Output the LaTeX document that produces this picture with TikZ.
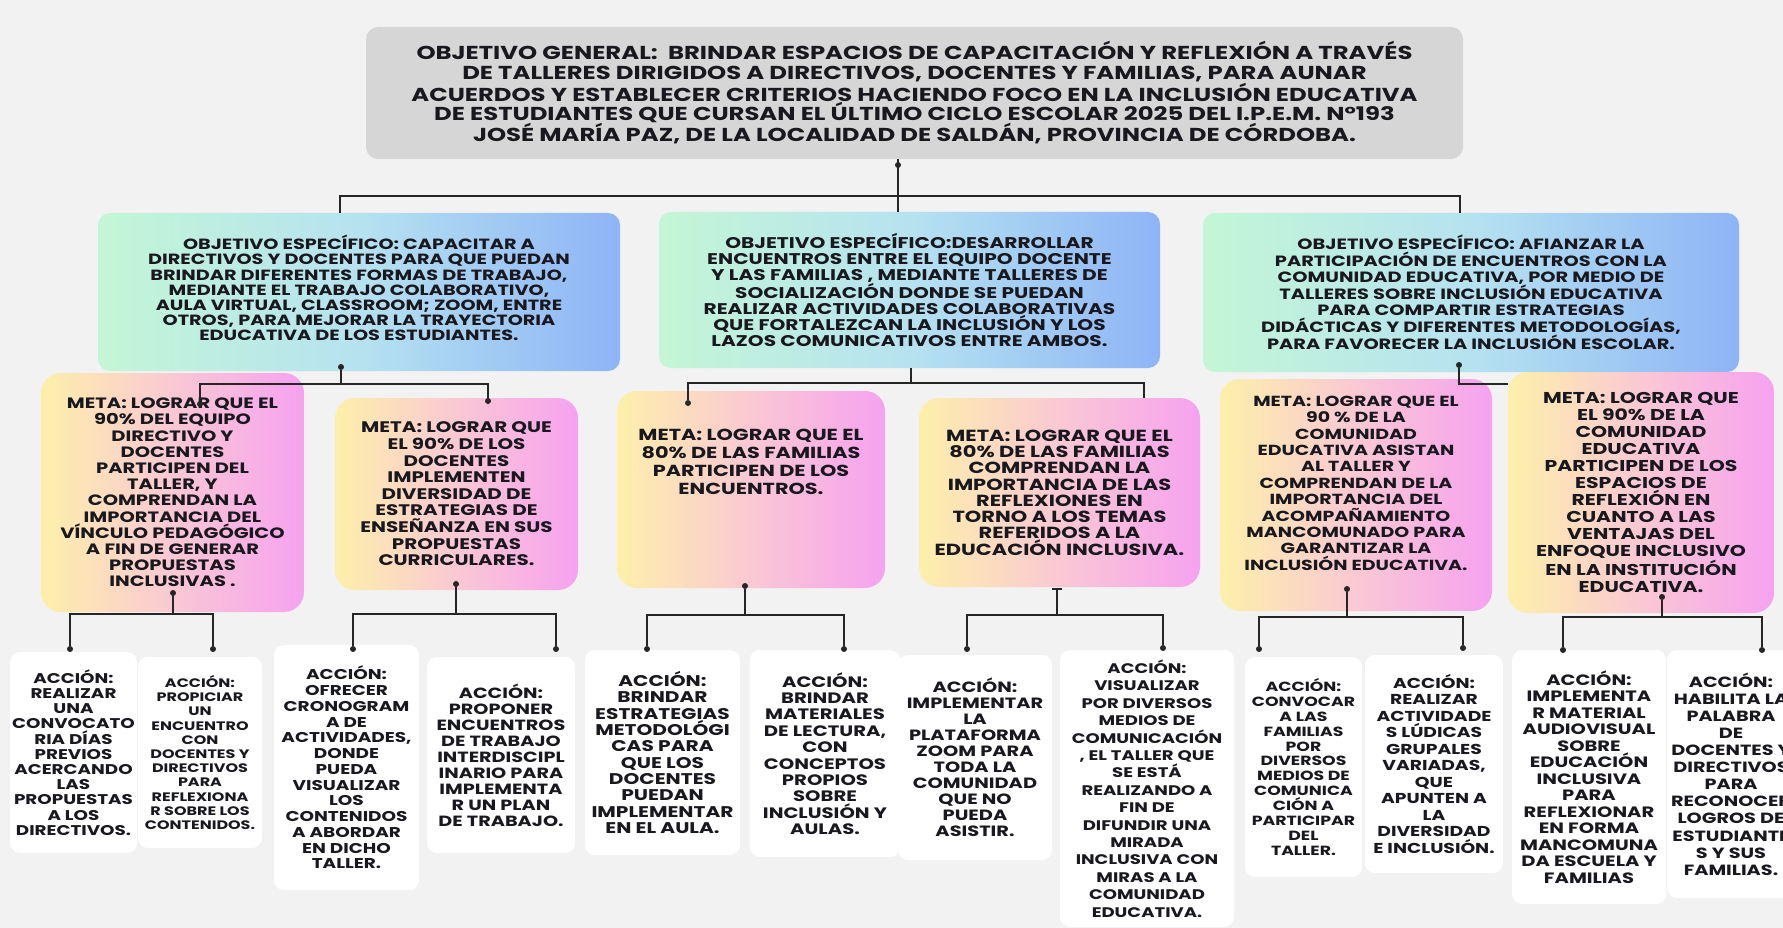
\documentclass[tikz,border=0pt]{standalone}
\usepackage{fontspec}
\setmainfont{Poppins}[FakeStretch=1.3]
\usetikzlibrary{calc}

\definecolor{fondo}{RGB}{242,242,242}
\definecolor{gris}{RGB}{214,214,214}
\definecolor{tinta}{RGB}{24,24,30}
\definecolor{linea}{RGB}{38,38,38}
\definecolor{objA}{RGB}{196,246,214}
\definecolor{objB}{RGB}{182,226,240}
\definecolor{objC}{RGB}{142,180,246}
\definecolor{metaA}{RGB}{253,240,170}
\definecolor{metaB}{RGB}{250,200,212}
\definecolor{metaC}{RGB}{246,162,240}

\newcommand{\tam}[2]{\bfseries\fontsize{#1}{#2}\selectfont}

\tikzset{
	caja/.style 2 args={align=center, inner sep=0pt, text=tinta,
		minimum width=#1, minimum height=#2},
	general/.style={fill=gris, rounded corners=12pt},
	objetivo/.style={left color=objA, right color=objC, middle color=objB, rounded corners=12pt},
	meta/.style={left color=metaA, right color=metaC, middle color=metaB, rounded corners=20pt},
	accion/.style={fill=white, rounded corners=10pt},
	rama/.style={draw=linea, line width=1.8pt},
	punto/.style={circle, fill=linea, inner sep=0pt, minimum size=6pt},
}

\begin{document}
\begin{tikzpicture}[x=1pt,y=-1pt]
	
	\useasboundingbox (0,0) rectangle (1783,928);
	\clip (0,0) rectangle (1783,928);
	\fill[fondo] (0,0) rectangle (1783,928);
	
	% objetivo general
	\node[caja={1097pt}{132pt}, general, font=\tam{18.7}{19.4}] (gen) at (914.5,93) {OBJETIVO GENERAL:~ BRINDAR ESPACIOS DE CAPACITACIÓN Y REFLEXIÓN A TRAVÉS\\DE TALLERES DIRIGIDOS A DIRECTIVOS, DOCENTES Y FAMILIAS, PARA AUNAR\\ACUERDOS Y ESTABLECER CRITERIOS HACIENDO FOCO EN LA INCLUSIÓN EDUCATIVA\\DE ESTUDIANTES QUE CURSAN EL ÚLTIMO CICLO ESCOLAR 2025 DEL I.P.E.M. N°193\\JOSÉ MARÍA PAZ, DE LA LOCALIDAD DE SALDÁN, PROVINCIA DE CÓRDOBA.};
	
	% objetivos especificos
	\node[caja={522pt}{158pt}, objetivo, text depth=8pt, font=\tam{14.8}{15.2}] (o1) at (359,292) {OBJETIVO ESPECÍFICO: CAPACITAR A\\DIRECTIVOS Y DOCENTES PARA QUE PUEDAN\\BRINDAR DIFERENTES FORMAS DE TRABAJO,\\MEDIANTE EL TRABAJO COLABORATIVO,\\AULA VIRTUAL, CLASSROOM; ZOOM, ENTRE\\OTROS, PARA MEJORAR LA TRAYECTORIA\\EDUCATIVA DE LOS ESTUDIANTES.};
	\node[caja={501pt}{156pt}, objetivo, font=\tam{15.5}{16}] (o2) at (909.5,290) {OBJETIVO ESPECÍFICO:DESARROLLAR\\ENCUENTROS ENTRE EL EQUIPO DOCENTE\\Y LAS FAMILIAS , MEDIANTE TALLERES DE\\SOCIALIZACIÓN DONDE SE PUEDAN\\REALIZAR ACTIVIDADES COLABORATIVAS\\QUE FORTALEZCAN LA INCLUSIÓN Y LOS\\LAZOS COMUNICATIVOS ENTRE AMBOS.};
	\node[caja={536pt}{159pt}, objetivo, font=\tam{14.9}{16.2}] (o3) at (1471,292.5) {OBJETIVO ESPECÍFICO: AFIANZAR LA\\PARTICIPACIÓN DE ENCUENTROS CON LA\\COMUNIDAD EDUCATIVA, POR MEDIO DE\\TALLERES SOBRE INCLUSIÓN EDUCATIVA\\PARA COMPARTIR ESTRATEGIAS\\DIDÁCTICAS Y DIFERENTES METODOLOGÍAS,\\PARA FAVORECER LA INCLUSIÓN ESCOLAR.};
	
	% metas
	\node[caja={263pt}{239pt}, meta, font=\tam{15}{16.2}] (m1) at (172.5,492.5) {META: LOGRAR QUE EL\\90\% DEL EQUIPO\\DIRECTIVO Y\\DOCENTES\\PARTICIPEN DEL\\TALLER, Y\\COMPRENDAN LA\\IMPORTANCIA DEL\\VÍNCULO PEDAGÓGICO\\A FIN DE GENERAR\\PROPUESTAS\\INCLUSIVAS .};
	\node[caja={243pt}{192pt}, meta, font=\tam{15.3}{16.6}] (m2) at (456.5,494) {META: LOGRAR QUE\\EL 90\% DE LOS\\DOCENTES\\IMPLEMENTEN\\DIVERSIDAD DE\\ESTRATEGIAS DE\\ENSEÑANZA EN SUS\\PROPUESTAS\\CURRICULARES.};
	\node[caja={268pt}{197pt}, meta, text depth=55pt, font=\tam{16}{18}] (m3) at (751,489.5) {META: LOGRAR QUE EL\\80\% DE LAS FAMILIAS\\PARTICIPEN DE LOS\\ENCUENTROS.};
	\node[caja={281pt}{189pt}, meta, font=\tam{16.1}{16.3}] (m4) at (1059.5,492.5) {META: LOGRAR QUE EL\\80\% DE LAS FAMILIAS\\COMPRENDAN LA\\IMPORTANCIA DE LAS\\REFLEXIONES EN\\TORNO A LOS TEMAS\\REFERIDOS A LA\\EDUCACIÓN INCLUSIVA.};
	\node[caja={272pt}{232pt}, meta, text depth=24pt, font=\tam{14.6}{16.4}] (m5) at (1356,495) {META: LOGRAR QUE EL\\90 \% DE LA\\COMUNIDAD\\EDUCATIVA ASISTAN\\AL TALLER Y\\COMPRENDAN DE LA\\IMPORTANCIA DEL\\ACOMPAÑAMIENTO\\MANCOMUNADO PARA\\GARANTIZAR LA\\INCLUSIÓN EDUCATIVA.};
	\node[caja={266pt}{241pt}, meta, font=\tam{15.7}{17}] (m6) at (1641,492.5) {META: LOGRAR QUE\\EL 90\% DE LA\\COMUNIDAD\\EDUCATIVA\\PARTICIPEN DE LOS\\ESPACIOS DE\\REFLEXIÓN EN\\CUANTO A LAS\\VENTAJAS DEL\\ENFOQUE INCLUSIVO\\EN LA INSTITUCIÓN\\EDUCATIVA.};
	
	% acciones
	\node[caja={127pt}{201pt}, accion, font=\tam{14.1}{15.2}] (a1) at (73.5,752.5) {ACCIÓN:\\REALIZAR\\UNA\\CONVOCATO\\RIA DÍAS\\PREVIOS\\ACERCANDO\\LAS\\PROPUESTAS\\A LOS\\DIRECTIVOS.};
	\node[caja={124pt}{191pt}, accion, font=\tam{12.3}{14.2}] (a2) at (200,752.5) {ACCIÓN:\\PROPICIAR\\UN\\ENCUENTRO\\CON\\DOCENTES Y\\DIRECTIVOS\\PARA\\REFLEXIONA\\R SOBRE LOS\\CONTENIDOS.};
	\node[caja={145pt}{245pt}, accion, font=\tam{14.2}{15.75}] (a3) at (346.5,767.5) {ACCIÓN:\\OFRECER\\CRONOGRAM\\A DE\\ACTIVIDADES,\\DONDE\\PUEDA\\VISUALIZAR\\LOS\\CONTENIDOS\\A ABORDAR\\EN DICHO\\TALLER.};
	\node[caja={148pt}{196pt}, accion, font=\tam{14.8}{16}] (a4) at (501,755) {ACCIÓN:\\PROPONER\\ENCUENTROS\\DE TRABAJO\\INTERDISCIPL\\INARIO PARA\\IMPLEMENTA\\R UN PLAN\\DE TRABAJO.};
	\node[caja={155pt}{205pt}, accion, font=\tam{15.5}{16.3}] (a5) at (662.5,752.5) {ACCIÓN:\\BRINDAR\\ESTRATEGIAS\\METODOLÓGI\\CAS PARA\\QUE LOS\\DOCENTES\\PUEDAN\\IMPLEMENTAR\\EN EL AULA.};
	\node[caja={150pt}{207pt}, accion, font=\tam{15.1}{16.4}] (a6) at (825,753.5) {ACCIÓN:\\BRINDAR\\MATERIALES\\DE LECTURA,\\CON\\CONCEPTOS\\PROPIOS\\SOBRE\\INCLUSIÓN Y\\AULAS.};
	\node[caja={154pt}{205pt}, accion, font=\tam{14.9}{16}] (a7) at (975,757.5) {ACCIÓN:\\IMPLEMENTAR\\LA\\PLATAFORMA\\ZOOM PARA\\TODA LA\\COMUNIDAD\\QUE NO\\PUEDA\\ASISTIR.};
	\node[caja={174pt}{277pt}, accion, font=\tam{13.9}{17.4}] (a8) at (1147,788.5) {ACCIÓN:\\VISUALIZAR\\POR DIVERSOS\\MEDIOS DE\\COMUNICACIÓN\\, EL TALLER QUE\\SE ESTÁ\\REALIZANDO A\\FIN DE\\DIFUNDIR UNA\\MIRADA\\INCLUSIVA CON\\MIRAS A LA\\COMUNIDAD\\EDUCATIVA.};
	\node[caja={117pt}{220pt}, accion, font=\tam{13.3}{14.9}] (a9) at (1303.5,767) {ACCIÓN:\\CONVOCAR\\A LAS\\FAMILIAS\\POR\\DIVERSOS\\MEDIOS DE\\COMUNICA\\CIÓN A\\PARTICIPAR\\DEL\\TALLER.};
	\node[caja={138pt}{218pt}, accion, font=\tam{14.4}{16.5}] (a10) at (1434,764) {ACCIÓN:\\REALIZAR\\ACTIVIDADE\\S LÚDICAS\\GRUPALES\\VARIADAS,\\QUE\\APUNTEN A\\LA\\DIVERSIDAD\\E INCLUSIÓN.};
	\node[caja={154pt}{254pt}, accion, font=\tam{15}{16.5}] (a11) at (1589,777) {ACCIÓN:\\IMPLEMENTA\\R MATERIAL\\AUDIOVISUAL\\SOBRE\\EDUCACIÓN\\INCLUSIVA\\PARA\\REFLEXIONAR\\EN FORMA\\MANCOMUNA\\DA ESCUELA Y\\FAMILIAS};
	\node[caja={128pt}{248pt}, accion, font=\tam{14.8}{17.1}] (a12) at (1731,774) {ACCIÓN:\\HABILITA LA\\PALABRA\\DE\\DOCENTES Y\\DIRECTIVOS\\PARA\\RECONOCER\\LOGROS DE\\ESTUDIANTE\\S Y SUS\\FAMILIAS.};
	
	% general -> objetivos
	\node[punto] (pg) at (898,165) {};
	\coordinate (g0) at (898,196);
	\coordinate (g1) at (340,196);
	\coordinate (g3) at (1460,196);
	\draw[rama] (g0 |- gen.south) -- (g0 |- o2.north);
	\draw[rama] (g1 |- o1.north) -- (g1) -- (g3) -- (g3 |- o3.north);
	
	% objetivo 1 -> metas
	\node[punto] (pa0) at (341,367) {};
	\coordinate (a0) at (341,384);
	\coordinate (a1) at (200,384);
	\coordinate (a2) at (488,384);
	\node[punto] (pa1) at (200,404) {};
	\node[punto] (pa2) at (488,401) {};
	\draw[rama] (pa0) -- (a0);
	\draw[rama] (pa1) -- (a1) -- (a2) -- (pa2);
	
	% objetivo 2 -> metas
	\coordinate (b0) at (911,383);
	\coordinate (b1) at (688,383);
	\coordinate (b2) at (1144,383);
	\node[punto] (pb1) at (688,403) {};
	\draw[rama] (b0 |- o2.south) -- (b0);
	\draw[rama] (pb1) -- (b1) -- (b2) -- (b2 |- m4.north);
	
	% objetivo 3 -> meta
	\node[punto] (pc0) at (1459,365) {};
	\coordinate (c0) at (1459,384);
	\draw[rama] (pc0) -- (c0) -- (c0 -| m6.west);
	
	% metas -> acciones
	\node[punto] (pd0) at (173,593) {};
	\coordinate (d1) at (70,614);
	\coordinate (d2) at (213,614);
	\node[punto] (pd1) at (70,649) {};
	\node[punto] (pd2) at (213,649) {};
	\draw[rama] (pd0) -- (pd0 |- d1);
	\draw[rama] (pd1) -- (d1) -- (d2) -- (pd2);
	
	\node[punto] (pe0) at (456,584) {};
	\coordinate (e1) at (353,614);
	\coordinate (e2) at (556,614);
	\node[punto] (pe1) at (353,649) {};
	\node[punto] (pe2) at (556,649) {};
	\draw[rama] (pe0) -- (pe0 |- e1);
	\draw[rama] (pe1) -- (e1) -- (e2) -- (pe2);
	
	\node[punto] (pf0) at (745,586) {};
	\coordinate (f1) at (647,615);
	\coordinate (f2) at (844,615);
	\node[punto] (pf1) at (647,649) {};
	\node[punto] (pf2) at (844,649) {};
	\draw[rama] (pf0) -- (pf0 |- f1);
	\draw[rama] (pf1) -- (f1) -- (f2) -- (pf2);
	
	\coordinate (h0) at (1057,589);
	\coordinate (h1) at (967,615);
	\coordinate (h2) at (1163,615);
	\node[punto] (ph1) at (967,649) {};
	\node[punto] (ph2) at (1163,648) {};
	\draw[rama] ($(h0)+(-5,0)$) -- ($(h0)+(5,0)$);
	\draw[rama] (h0) -- (h0 |- h1);
	\draw[rama] (ph1) -- (h1) -- (h2) -- (ph2);
	
	\node[punto] (pk0) at (1347,589) {};
	\coordinate (k1) at (1259,617);
	\coordinate (k2) at (1463,617);
	\node[punto] (pk1) at (1259,649) {};
	\node[punto] (pk2) at (1463,648) {};
	\draw[rama] (pk0) -- (pk0 |- k1);
	\draw[rama] (pk1) -- (k1) -- (k2) -- (pk2);
	
	\node[punto] (pn0) at (1662,597) {};
	\coordinate (n1) at (1563,617);
	\coordinate (n2) at (1762,617);
	\node[punto] (pn1) at (1563,650) {};
	\node[punto] (pn2) at (1762,650) {};
	\draw[rama] (pn0) -- (pn0 |- n1);
	\draw[rama] (pn1) -- (n1) -- (n2) -- (pn2);
	
\end{tikzpicture}
\end{document}
